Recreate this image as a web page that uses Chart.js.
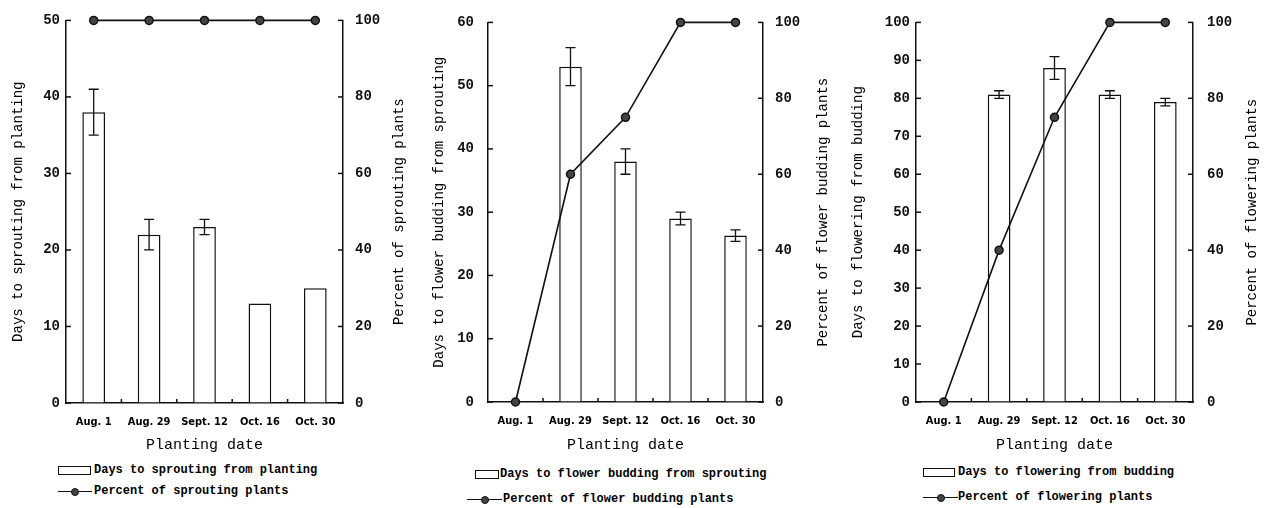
<!DOCTYPE html>
<html>
<head>
<meta charset="utf-8">
<script src="https://cdn.jsdelivr.net/npm/chart.js@4.4.0/dist/chart.umd.min.js"></script>
<style>
  body { margin: 0; background: #fff; width: 1268px; height: 508px; position: relative; overflow: hidden; }
  .panel { position: absolute; top: 0; height: 460px; }
  .leg { position: absolute; font: bold 12px 'Liberation Mono', monospace; color: #000; white-space: nowrap; line-height: 14px; }
  .box { position: absolute; border: 1.5px solid #111; background: #fff; box-sizing: border-box; height: 9px; }
  .ln { position: absolute; height: 0; border-top: 1.5px solid #111; }
  .dot { position: absolute; width: 8px; height: 8px; border-radius: 50%; background: #444; border: 1.5px solid #111; box-sizing: border-box; }
</style>
</head>
<body>
<script>
// 定植日
var dates = ['Aug. 1', 'Aug. 29', 'Sept. 12', 'Oct. 16', 'Oct. 30'];

// 萌芽まで日数
var sproutDays = [38, 22, 23, 13, 15];
var sproutErr = [3, 2, 1, 0, 0];
var sproutPct = [100, 100, 100, 100, 100];

// 花芽まで日数
var budDays = [null, 53, 38, 29, 26.3];
var budErr = [0, 3, 2, 1, 0.9];
var budPct = [0, 60, 75, 100, 100];

// 開花まで日数
var flowerDays = [null, 81, 88, 81, 79];
var flowerErr = [0, 1, 3, 1, 1];
var flowerPct = [0, 40, 75, 100, 100];

var daysLabels = ['Days to sprouting from planting', 'Days to flower budding from sprouting', 'Days to flowering from budding'];
var pctLabels = ['Percent of sprouting plants', 'Percent of flower budding plants', 'Percent of flowering plants'];
var xTitle = 'Planting date';
var leftMax = [50, 60, 100];
var rightMax = [100, 100, 100];

var allDays = [sproutDays, budDays, flowerDays];
var allErr = [sproutErr, budErr, flowerErr];
var allPct = [sproutPct, budPct, flowerPct];

// レイアウト（位置・サイズ）
var layouts = [
  { x: 0,   w: 420, left: 66, right: 77, top: 16, xh: 57, ltPad: 10, rtOff: 21, padL: 6,  padR: 12, legY: [470, 491], boxX: 58,  boxW: 33, lineX: 58,  lineW: 34, textX: 94 },
  { x: 420, w: 420, left: 68, right: 77, top: 13, xh: 58, ltPad: 11, rtOff: 17, padL: 14, padR: 12, legY: [474, 499], boxX: 55,  boxW: 24, lineX: 47,  lineW: 35, textX: 80 },
  { x: 840, w: 428, left: 76, right: 75, top: 22, xh: 58, ltPad: 10, rtOff: 16, padL: 6,  padR: 14, legY: [472, 497], boxX: 83,  boxW: 32, lineX: 83,  lineW: 35, textX: 118 }
];

// 内向きの目盛り
var inTicks = {
  id: 'inTicks',
  afterDraw: function (chart) {
    var ctx = chart.ctx, a = chart.chartArea;
    ctx.save();
    ctx.strokeStyle = '#111';
    ctx.lineWidth = 1.5;
    ['y', 'y2'].forEach(function (id) {
      var s = chart.scales[id];
      var x0 = id === 'y' ? a.left : a.right;
      var dir = id === 'y' ? 1 : -1;
      s.ticks.forEach(function (t) {
        var py = s.getPixelForValue(t.value);
        ctx.beginPath();
        ctx.moveTo(x0, py);
        ctx.lineTo(x0 + dir * 5, py);
        ctx.stroke();
      });
    });
    var xs = chart.scales.x;
    for (var i = 1; i < xs.ticks.length; i++) {
      var px = (xs.getPixelForValue(i - 1) + xs.getPixelForValue(i)) / 2;
      ctx.beginPath();
      ctx.moveTo(px, a.bottom);
      ctx.lineTo(px, a.bottom - 4);
      ctx.stroke();
    }
    ctx.restore();
  }
};

// 誤差棒
var errorBars = {
  id: 'errorBars',
  afterDatasetsDraw: function (chart, args, opts) {
    var ctx = chart.ctx;
    var ys = chart.scales.y;
    var meta = chart.getDatasetMeta(0);
    var vals = chart.data.datasets[0].data;
    ctx.save();
    ctx.strokeStyle = '#111';
    ctx.lineWidth = 1.3;
    meta.data.forEach(function (el, i) {
      var v = vals[i], e = opts.err[i];
      if (v == null || !e) return;
      var y1 = ys.getPixelForValue(v + e), y2 = ys.getPixelForValue(v - e);
      ctx.beginPath();
      ctx.moveTo(el.x, y1); ctx.lineTo(el.x, y2);
      ctx.moveTo(el.x - 5, y1); ctx.lineTo(el.x + 5, y1);
      ctx.moveTo(el.x - 5, y2); ctx.lineTo(el.x + 5, y2);
      ctx.stroke();
    });
    ctx.restore();
  }
};

// 右軸タイトル（下から上へ）
var rightTitle = {
  id: 'rightTitle',
  afterDraw: function (chart, args, opts) {
    var ctx = chart.ctx, a = chart.chartArea;
    ctx.save();
    ctx.translate(chart.width - opts.offset, (a.top + a.bottom) / 2);
    ctx.rotate(-Math.PI / 2);
    ctx.font = '14px "Liberation Mono", monospace';
    ctx.fillStyle = '#000';
    ctx.textAlign = 'center';
    ctx.textBaseline = 'middle';
    ctx.fillText(opts.text, 0, 0);
    ctx.restore();
  }
};

var tickFont = { family: 'Liberation Mono', size: 14, weight: 'bold' };
var catFont = { family: 'DejaVu Sans Condensed', size: 11, weight: 'bold' };

layouts.forEach(function (L, k) {
  var wrap = document.createElement('div');
  wrap.className = 'panel';
  wrap.style.left = L.x + 'px';
  wrap.style.width = L.w + 'px';
  var canvas = document.createElement('canvas');
  wrap.appendChild(canvas);
  document.body.appendChild(wrap);

  new Chart(canvas.getContext('2d'), {
    type: 'bar',
    data: {
      labels: dates,
      datasets: [{
        type: 'bar',
        label: daysLabels[k],
        data: allDays[k],
        yAxisID: 'y',
        backgroundColor: '#fff',
        borderColor: '#111',
        borderWidth: 1.5,
        barPercentage: 0.41,
        categoryPercentage: 1,
        order: 1
      }, {
        type: 'line',
        label: pctLabels[k],
        data: allPct[k],
        yAxisID: 'y2',
        borderColor: '#111',
        borderWidth: 1.6,
        pointRadius: 4,
        pointBackgroundColor: '#444',
        pointBorderColor: '#111',
        pointBorderWidth: 1.5,
        tension: 0,
        clip: false,
        order: 0
      }]
    },
    options: {
      responsive: true,
      maintainAspectRatio: false,
      animation: false,
      layout: { padding: { top: L.top, left: 0, right: 0, bottom: 0 } },
      plugins: {
        legend: { display: false },
        tooltip: { enabled: false },
        errorBars: { err: allErr[k] },
        rightTitle: { text: pctLabels[k], offset: L.rtOff }
      },
      scales: {
        x: {
          grid: { display: true, drawOnChartArea: false, drawTicks: false },
          border: { display: true, color: '#111', width: 1.5 },
          ticks: { font: catFont, color: '#000', padding: 13, maxRotation: 0 },
          title: { display: true, text: xTitle, font: { family: 'Liberation Mono', size: 15 }, color: '#000', padding: { top: 0, bottom: 6 } },
          afterFit: function (s) { s.height = L.xh; }
        },
        y: {
          position: 'left',
          min: 0, max: leftMax[k],
          grid: { display: true, drawOnChartArea: false, drawTicks: false },
          border: { display: true, color: '#111', width: 1.5 },
          ticks: { stepSize: 10, font: tickFont, color: '#111', padding: L.padL },
          title: { display: true, text: daysLabels[k], font: { family: 'Liberation Mono', size: 14 }, color: '#000', padding: { top: L.ltPad, bottom: 0 } },
          afterFit: function (s) { s.width = L.left; }
        },
        y2: {
          position: 'right',
          min: 0, max: rightMax[k],
          grid: { display: true, drawOnChartArea: false, drawTicks: false },
          border: { display: true, color: '#111', width: 1.5 },
          ticks: { stepSize: 20, font: tickFont, color: '#111', padding: L.padR },
          afterFit: function (s) { s.width = L.right; }
        }
      }
    },
    plugins: [inTicks, errorBars, rightTitle]
  });

  // 凡例
  var legBox = document.createElement('div');
  legBox.className = 'box';
  legBox.style.left = (L.x + L.boxX) + 'px';
  legBox.style.top = (L.legY[0] - 4) + 'px';
  legBox.style.width = L.boxW + 'px';
  document.body.appendChild(legBox);
  var t1 = document.createElement('div');
  t1.className = 'leg';
  t1.textContent = daysLabels[k];
  t1.style.left = (L.x + L.textX) + 'px';
  t1.style.top = (L.legY[0] - 7) + 'px';
  document.body.appendChild(t1);

  var ln = document.createElement('div');
  ln.className = 'ln';
  ln.style.left = (L.x + L.lineX) + 'px';
  ln.style.top = L.legY[1] + 'px';
  ln.style.width = L.lineW + 'px';
  document.body.appendChild(ln);
  var dot = document.createElement('div');
  dot.className = 'dot';
  dot.style.left = (L.x + L.lineX + L.lineW / 2 - 4) + 'px';
  dot.style.top = (L.legY[1] - 3.5) + 'px';
  document.body.appendChild(dot);
  var t2 = document.createElement('div');
  t2.className = 'leg';
  t2.textContent = pctLabels[k];
  t2.style.left = (L.x + L.textX + (k === 1 ? 3 : 0)) + 'px';
  t2.style.top = (L.legY[1] - 7) + 'px';
  document.body.appendChild(t2);
});
</script>
</body>
</html>
